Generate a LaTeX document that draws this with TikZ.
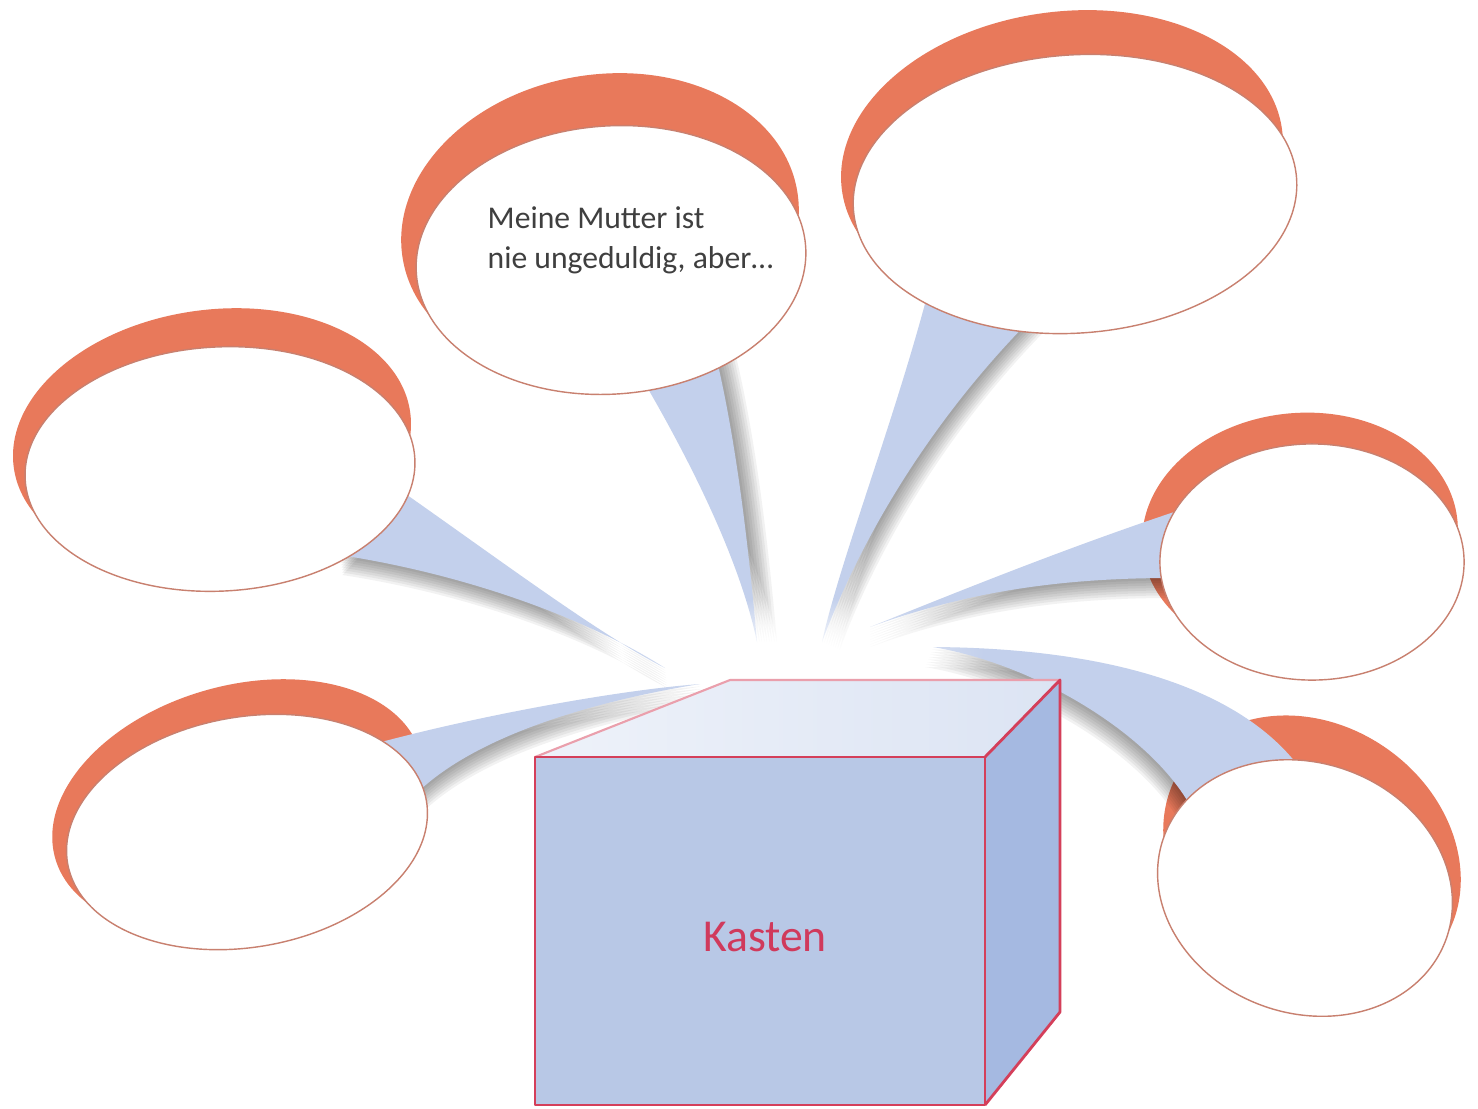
\documentclass[tikz,border=0pt]{standalone}
\usepackage{fontspec}
\setmainfont{Carlito}
\usetikzlibrary{shapes.geometric,fadings}
\definecolor{orng}{HTML}{E8795B}
\definecolor{tailblue}{HTML}{C3D0EC}
\definecolor{bline}{HTML}{C8806F}
\definecolor{frontc}{HTML}{B8C8E6}
\definecolor{sidec}{HTML}{A5B9E1}
\definecolor{topl}{HTML}{EEF2FA}
\definecolor{topr}{HTML}{DCE4F3}
\definecolor{boxred}{HTML}{D43F5A}
\definecolor{kred}{HTML}{D03A5C}
\definecolor{txtc}{HTML}{3F3F3F}
\tikzfading[name=glowfade, inner color=transparent!0, outer color=transparent!100]
\begin{document}
\begin{tikzpicture}[x=0.01cm,y=-0.01cm,
  crescent/.style={ellipse, fill=orng, inner sep=0pt, outer sep=0pt},
  bubble/.style={ellipse, fill=white, draw=bline, line width=0.4pt, inner sep=0pt, outer sep=0pt},
  shadowlayer/.style={fill=black, opacity=0.05},
  boxline/.style={draw=boxred, line width=0.8pt, line join=round},
  bubtext/.style={anchor=base west, inner sep=0pt, text=txtc, font=\fontsize{9}{11}\selectfont}]
\fill[white] (0,0) rectangle (1478,1108);
\useasboundingbox (0,0) rectangle (1478,1108);

% orange crescents (behind)
\node[crescent, minimum width=4.0cm, minimum height=3.0cm, rotate=10] (o1) at (600,225) {};
\node[crescent, minimum width=4.44cm, minimum height=2.96cm, rotate=8] (o2) at (1062,160) {};
\node[crescent, minimum width=4.0cm, minimum height=2.6cm, rotate=8] (o3) at (212,440) {};
\node[crescent, minimum width=3.8cm, minimum height=2.4cm, rotate=16] (o4) at (238,806) {};
\node[crescent, minimum width=3.16cm, minimum height=2.44cm, rotate=5] (o5) at (1300,535) {};
\node[crescent, minimum width=3.14cm, minimum height=2.6cm, rotate=-35] (o6) at (1312,855) {};

% tail tips
\coordinate (tip1) at (757,642);
\coordinate (tip2) at (822,642);
\coordinate (tip3) at (665,668);
\coordinate (tip4) at (700,684);
\coordinate (tip5) at (870,627);
\coordinate (tip6) at (933,647);

\def\tailA{(640,375) .. controls (690,460) and (740,560) .. (tip1)
   .. controls (748,540) and (735,430) .. (712,340) -- cycle}
\def\tailB{(930,285) .. controls (895,420) and (840,560) .. (tip2)
   .. controls (860,540) and (930,420) .. (1035,315) -- cycle}
\def\tailC{(400,490) .. controls (500,560) and (600,635) .. (tip3)
   .. controls (590,620) and (470,575) .. (340,555) -- cycle}
\def\tailD{(370,745) .. controls (480,715) and (620,690) .. (tip4)
   .. controls (600,700) and (470,735) .. (410,800) -- cycle}
\def\tailE{(1180,510) .. controls (1060,550) and (950,595) .. (tip5)
   .. controls (950,598) and (1040,578) .. (1170,578) -- cycle}
\def\tailF{(tip6) .. controls (1090,648) and (1240,680) .. (1305,775)
   -- (1300,800) -- (1195,815) .. controls (1160,740) and (1040,665) .. (tip6) -- cycle}

% soft shadows
\foreach \s in {1,...,8}{
  \fill[shadowlayer, transform canvas={shift={(2.5*\s*0.01cm,0)}}] \tailA;
  \fill[shadowlayer, transform canvas={shift={(2.2*\s*0.01cm,-1*\s*0.01cm)}}] \tailB;
  \fill[shadowlayer, transform canvas={shift={(0.3*\s*0.01cm,-2.5*\s*0.01cm)}}] \tailC;
  \fill[shadowlayer, transform canvas={shift={(0.6*\s*0.01cm,-2.5*\s*0.01cm)}}] \tailD;
  \fill[shadowlayer, transform canvas={shift={(0,-2.5*\s*0.01cm)}}] \tailE;
  \fill[shadowlayer, transform canvas={shift={(-1*\s*0.01cm,-2.5*\s*0.01cm)}}] \tailF;
}
% tails
\fill[tailblue] \tailA;
\fill[tailblue] \tailB;
\fill[tailblue] \tailC;
\fill[tailblue] \tailD;
\fill[tailblue] \tailE;
\fill[tailblue] \tailF;

% white bubbles
\node[bubble, minimum width=3.9cm, minimum height=2.68cm, rotate=4] (b1) at (611,260) {};
\node[bubble, minimum width=4.44cm, minimum height=2.78cm, rotate=4] (b2) at (1075,194) {};
\node[bubble, minimum width=3.9cm, minimum height=2.44cm, rotate=3] (b3) at (220,469) {};
\node[bubble, minimum width=3.64cm, minimum height=2.3cm, rotate=10] (b4) at (247,832) {};
\node[bubble, minimum width=3.04cm, minimum height=2.36cm] (b5) at (1312,562) {};
\node[bubble, minimum width=3.0cm, minimum height=2.5cm, rotate=-20] (b6) at (1305,888) {};

% glow over tips
\fill[white, path fading=glowfade] (800,652) ellipse (185 and 55);

% box
\coordinate (fl) at (535,757);
\coordinate (fr) at (985,757);
\coordinate (bl) at (535,1105);
\coordinate (br) at (985,1105);
\coordinate (tbl) at (730,680);
\coordinate (tbr) at (1060,680);
\coordinate (sbr) at (1060,1012);
\shade[left color=topl, right color=topr] (fl) -- (tbl) -- (tbr) -- (fr) -- cycle;
\draw[draw=boxred!50, line width=0.6pt, line join=round] (fl) -- (tbl) -- (tbr);
\fill[sidec] (fr) -- (tbr) -- (sbr) -- (br) -- cycle;
\draw[boxline] (fr) -- (tbr) -- (sbr) -- (br);
\fill[frontc] (fl) rectangle (br);
\draw[boxline] (fl) rectangle (br);

% texts
\node[bubtext] (t1a) at (487,228) {Meine Mutter ist};
\node[bubtext] (t1b) at (487,268) {nie ungeduldig, aber…};
\node[text=kred, inner sep=0pt, font=\fontsize{13}{15}\selectfont] (kasten) at (765,937) {Kasten};
\end{tikzpicture}
\end{document}
